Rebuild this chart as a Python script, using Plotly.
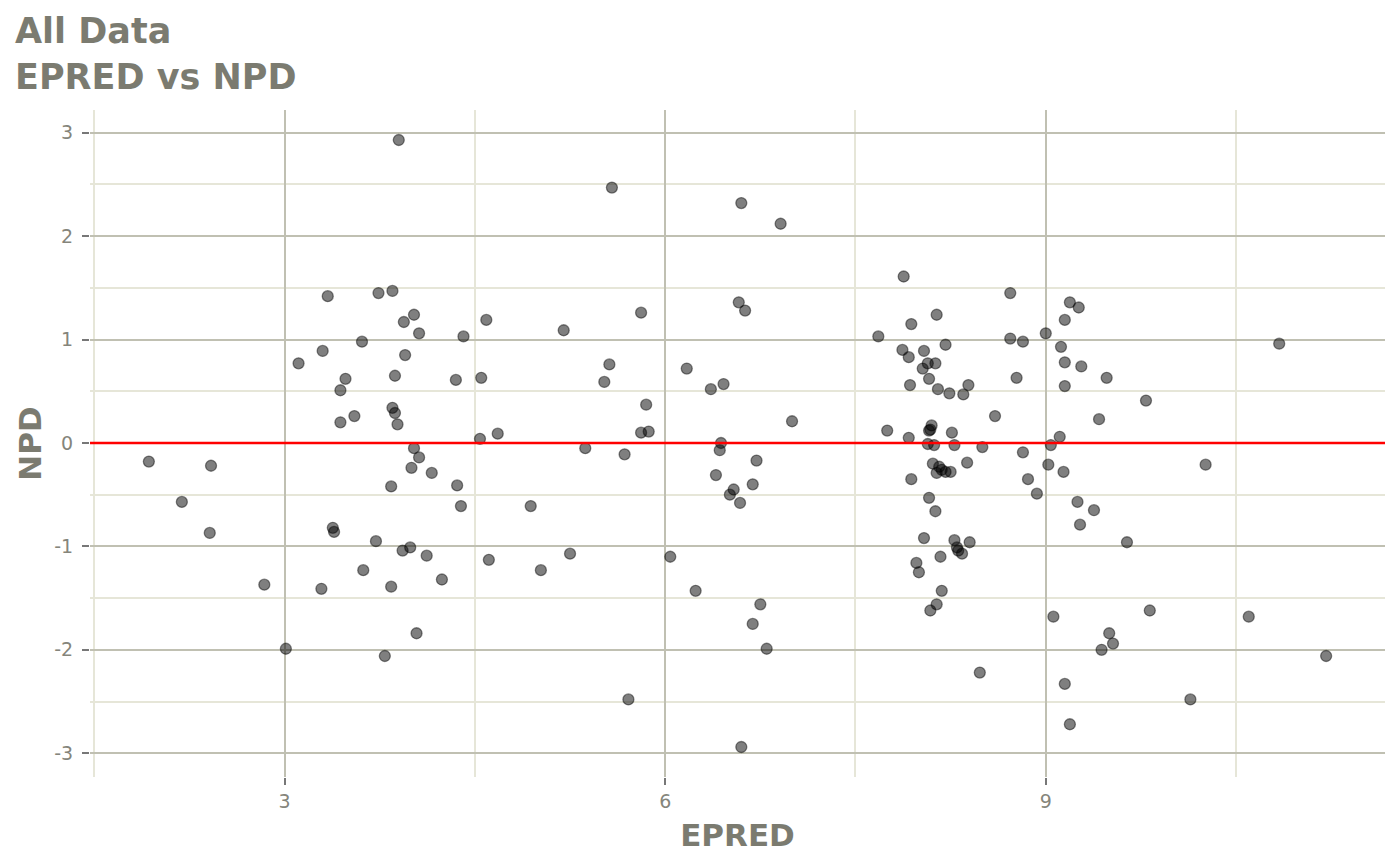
import plotly.graph_objects as go

# EPRED vs NPD values
epred = [
    1.93, 2.19, 2.42, 2.41, 2.84, 3.01, 3.11, 3.30, 3.29, 3.34,
    3.38, 3.39, 3.44, 3.44, 3.48, 3.55, 3.61, 3.62, 3.72, 3.74,
    3.79, 3.84, 3.84, 3.85, 3.85, 3.87, 3.87, 3.89, 3.90, 3.93,
    3.94, 3.95, 3.99, 4.00, 4.02, 4.02, 4.04, 4.06, 4.06, 4.12,
    4.16, 4.24, 4.35, 4.36, 4.39, 4.41, 4.54, 4.55, 4.59, 4.61,
    4.68, 4.94, 5.02, 5.20, 5.25, 5.37, 5.52, 5.56, 5.58, 5.68,
    5.71, 5.81, 5.81, 5.85, 5.87, 6.04, 6.17, 6.24, 6.36, 6.40,
    6.43, 6.44, 6.46, 6.51, 6.54, 6.58, 6.59, 6.60, 6.60, 6.63,
    6.69, 6.69, 6.72, 6.75, 6.80, 6.91, 7.00,
    7.68, 7.75, 7.87, 7.88, 7.92, 7.92, 7.93, 7.94, 7.94, 7.98,
    8.00, 8.03, 8.04, 8.04, 8.07, 8.07, 8.08, 8.08, 8.08, 8.09,
    8.09, 8.10, 8.11, 8.12, 8.13, 8.13, 8.14, 8.14, 8.14, 8.15,
    8.16, 8.17, 8.18, 8.18, 8.21, 8.21, 8.24, 8.25, 8.26, 8.28,
    8.28, 8.30, 8.31, 8.34, 8.35, 8.38, 8.39, 8.40, 8.48, 8.50,
    8.60, 8.72, 8.72, 8.77, 8.82, 8.82, 8.86, 8.93, 9.00, 9.02,
    9.04, 9.06, 9.11, 9.12, 9.14, 9.15, 9.15, 9.15, 9.15, 9.19,
    9.19, 9.25, 9.26, 9.27, 9.28, 9.38, 9.42, 9.44, 9.48, 9.50,
    9.53, 9.64, 9.79, 9.82, 10.14, 10.26, 10.60, 10.84, 11.21,
]
npd = [
    -0.18, -0.57, -0.22, -0.87, -1.37, -1.99, 0.77, 0.89, -1.41, 1.42,
    -0.82, -0.86, 0.51, 0.20, 0.62, 0.26, 0.98, -1.23, -0.95, 1.45,
    -2.06, -0.42, -1.39, 1.47, 0.34, 0.29, 0.65, 0.18, 2.93, -1.04,
    1.17, 0.85, -1.01, -0.24, 1.24, -0.05, -1.84, 1.06, -0.14, -1.09,
    -0.29, -1.32, 0.61, -0.41, -0.61, 1.03, 0.04, 0.63, 1.19, -1.13,
    0.09, -0.61, -1.23, 1.09, -1.07, -0.05, 0.59, 0.76, 2.47, -0.11,
    -2.48, 1.26, 0.10, 0.37, 0.11, -1.10, 0.72, -1.43, 0.52, -0.31,
    -0.07, 0.00, 0.57, -0.50, -0.45, 1.36, -0.58, 2.32, -2.94, 1.28,
    -0.40, -1.75, -0.17, -1.56, -1.99, 2.12, 0.21,
    1.03, 0.12, 0.90, 1.61, 0.83, 0.05, 0.56, 1.15, -0.35, -1.16,
    -1.25, 0.72, 0.89, -0.92, 0.77, -0.01, 0.62, 0.12, -0.53, 0.13,
    -1.62, 0.17, -0.20, -0.02, 0.77, -0.66, 1.24, -0.29, -1.56, 0.52,
    -0.23, -1.10, -0.26, -1.43, 0.95, -0.28, 0.48, -0.28, 0.10, -0.02,
    -0.94, -1.01, -1.04, -1.07, 0.47, -0.19, 0.56, -0.96, -2.22, -0.04,
    0.26, 1.45, 1.01, 0.63, 0.98, -0.09, -0.35, -0.49, 1.06, -0.21,
    -0.02, -1.68, 0.06, 0.93, -0.28, 1.19, 0.78, 0.55, -2.33, 1.36,
    -2.72, -0.57, 1.31, -0.79, 0.74, -0.65, 0.23, -2.00, 0.63, -1.84,
    -1.94, -0.96, 0.41, -1.62, -2.48, -0.21, -1.68, 0.96, -2.06,
]

x_ticks = [3, 6, 9]
y_ticks = [-3, -2, -1, 0, 1, 2, 3]

text_grey = "#7b7b70"
tick_grey = "#85857b"
major_grid = "#c0c0b2"
minor_grid = "#e6e6d8"

# the page has an 8px body margin, so the figure is 8px smaller than the window
W, H = 1392, 857
L, R, T, B = 82, 15, 102, 88
pw, ph = W - L - R, H - T - B

fig = go.Figure()

fig.add_trace(go.Scatter(
    x=epred,
    y=npd,
    mode="markers",
    marker=dict(size=11, color="rgba(0,0,0,0.5)",
                line=dict(color="rgba(0,0,0,0.45)", width=1.3)),
    showlegend=False,
))

# reference line at zero
fig.add_hline(y=0, line_color="#ff0000", line_width=2.5, layer="above")

# two-line title, placed as an annotation so it sits at the top-left corner
fig.add_annotation(
    text="<b>All Data</b><br><b>EPRED vs NPD</b>",
    xref="paper", yref="paper",
    x=(5 - L) / pw, y=(H - B - 1) / ph,
    xanchor="left", yanchor="top", align="left",
    showarrow=False,
    font=dict(size=35, color=text_grey),
)

fig.update_layout(
    width=W,
    height=H,
    paper_bgcolor="white",
    plot_bgcolor="white",
    font=dict(family="DejaVu Sans", color=tick_grey),
    margin=dict(l=L, r=R, t=T, b=B),
    xaxis=dict(
        range=[1.466, 11.674],
        tickvals=x_ticks,
        ticktext=[str(v) for v in x_ticks],
        showgrid=True, gridcolor=major_grid, gridwidth=2,
        minor=dict(dtick=1.5, tick0=0, showgrid=True, gridcolor=minor_grid, gridwidth=2),
        zeroline=False, showline=False, automargin=False,
        ticks="outside", ticklen=7, tickwidth=2, tickcolor="#777777",
        tickfont=dict(size=19, color=tick_grey),
        title=dict(text="<b>EPRED</b>", font=dict(size=31, color=text_grey), standoff=13),
    ),
    yaxis=dict(
        range=[-3.23, 3.22],
        tickvals=y_ticks,
        ticktext=[str(v) for v in y_ticks],
        showgrid=True, gridcolor=major_grid, gridwidth=2,
        minor=dict(dtick=0.5, tick0=0, showgrid=True, gridcolor=minor_grid, gridwidth=2),
        zeroline=False, showline=False, automargin=False,
        ticks="outside", ticklen=7, tickwidth=2, tickcolor="#777777",
        tickfont=dict(size=19, color=tick_grey), ticklabelstandoff=5,
        title=dict(text="<b>NPD</b>", font=dict(size=31, color=text_grey), standoff=3),
    ),
)

fig.write_html("out.html")
